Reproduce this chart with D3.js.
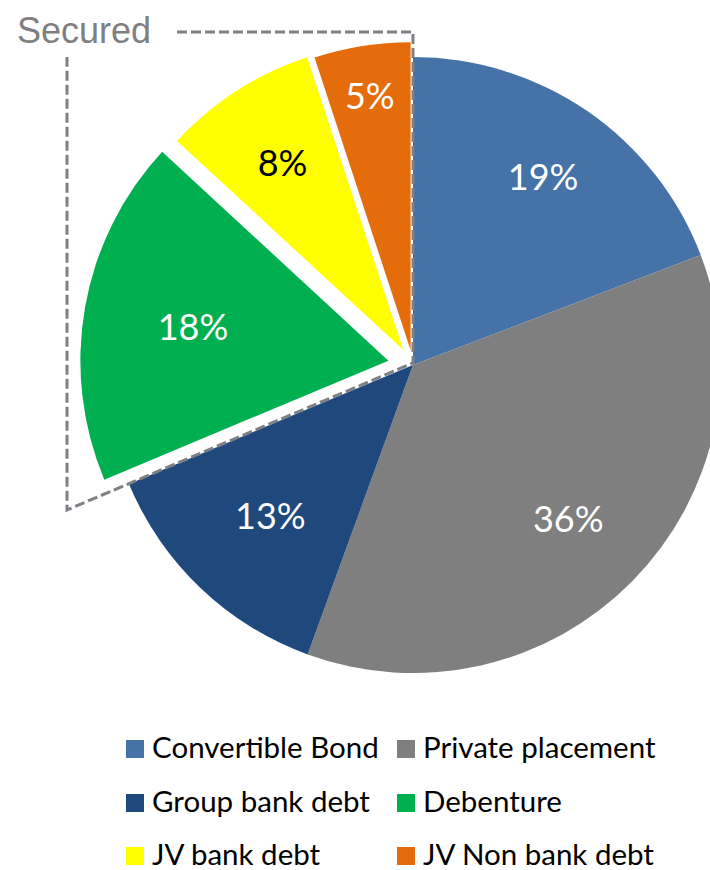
<!DOCTYPE html>
<html>
<head>
<meta charset="utf-8">
<script src="https://cdn.jsdelivr.net/npm/d3@7"></script>
<style>
  html, body { margin: 0; padding: 0; background: #fff; }
  svg { display: block; }
</style>
</head>
<body>
<svg id="chart" width="710" height="870"></svg>
<script>
// Funding mix by source, percent of total
const categories = ["Convertible Bond", "Private placement", "Group bank debt", "Debenture", "JV bank debt", "JV Non bank debt"];
const shares = [19, 36, 13, 18, 8, 5];
const labels = ["19%", "36%", "13%", "18%", "8%", "5%"];
const securedGroup = ["Debenture", "JV bank debt", "JV Non bank debt"];
const groupLabel = "Secured";

const colors = ["#4573a8", "#7f7f7f", "#1f497d", "#00b050", "#ffff00", "#e46c0a"];
const labelColors = ["#fff", "#fff", "#fff", "#fff", "#000", "#fff"];

// Layout
const cx = 413, cy = 365, R = 308;
const explode = [0, 0, 0, 25, 18, 15];          // outward pull of the secured slices
const labelRadius = [0.745, 0.707, 0.671, 0.644, 0.725, 0.84];

const svg = d3.select("#chart");
const color = d3.scaleOrdinal().domain(categories).range(colors);

const pie = d3.pie().sort(null).value(d => d.value);
const rows = categories.map((c, i) => ({ name: c, value: shares[i], label: labels[i], i }));
const arcs = pie(rows);
const arc = d3.arc().innerRadius(0).outerRadius(R);

const polar = (a, r) => [Math.sin(a) * r, -Math.cos(a) * r];

const g = svg.append("g").attr("transform", `translate(${cx},${cy})`);

const slice = g.selectAll("g.slice").data(arcs).join("g")
  .attr("class", "slice")
  .attr("transform", d => {
    const mid = (d.startAngle + d.endAngle) / 2;
    const [dx, dy] = polar(mid, explode[d.data.i]);
    return `translate(${dx},${dy})`;
  });

slice.append("path")
  .attr("d", arc)
  .attr("fill", d => color(d.data.name));

slice.append("text")
  .attr("transform", d => {
    const mid = (d.startAngle + d.endAngle) / 2;
    const [x, y] = polar(mid, labelRadius[d.data.i] * R);
    return `translate(${x},${y})`;
  })
  .attr("text-anchor", "middle")
  .attr("dominant-baseline", "central")
  .attr("font-family", "Lato, 'Open Sans', sans-serif")
  .attr("font-size", 36)
  .attr("fill", d => labelColors[d.data.i])
  .text(d => d.data.label);

// Dashed bracket round the secured slices
const secArcs = arcs.filter(d => securedGroup.includes(d.data.name));
const secStart = d3.min(secArcs, d => d.startAngle);
const leftX = -346, topY = -333;
const diagLen = leftX / Math.sin(secStart);
const [bx, by] = polar(secStart, diagLen);
const bracket = d3.path();
bracket.moveTo(-236, topY);
bracket.lineTo(0, topY);
bracket.lineTo(0, -2);
bracket.lineTo(bx, by);
bracket.lineTo(leftX, -308);
g.append("path")
  .attr("d", bracket.toString())
  .attr("fill", "none")
  .attr("stroke", "#7f7f86")
  .attr("stroke-width", 3)
  .attr("stroke-dasharray", "10,4");

svg.append("text")
  .attr("x", 17).attr("y", 43)
  .attr("font-family", "'Liberation Sans', Arial, sans-serif")
  .attr("font-size", 36)
  .attr("fill", "#7f7f7f")
  .text(groupLabel);

// Legend: two columns, three rows
const legend = svg.append("g");
const colX = [126, 397], rowY = [740, 794, 847];
const item = legend.selectAll("g").data(categories).join("g")
  .attr("transform", (d, i) => `translate(${colX[i % 2]},${rowY[Math.floor(i / 2)]})`);
item.append("rect")
  .attr("width", 18).attr("height", 18)
  .attr("fill", d => color(d));
item.append("text")
  .attr("x", 26).attr("y", 18)
  .attr("font-family", "Lato, 'Open Sans', sans-serif")
  .attr("font-size", 29.5)
  .attr("fill", "#000")
  .text(d => d);
</script>
</body>
</html>
